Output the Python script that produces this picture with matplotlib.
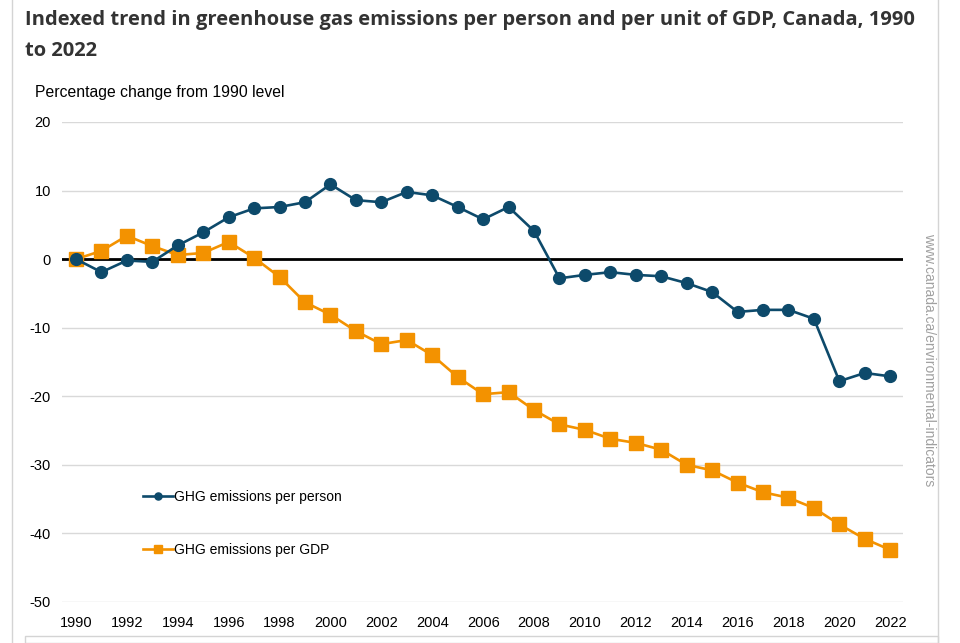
import matplotlib.pyplot as plt
import numpy as np
from matplotlib.patches import Rectangle

years = np.arange(1990, 2023)

# percentage change from 1990
per_person = [0.0, -1.9, -0.2, -0.4, 2.0, 3.9, 6.1, 7.4, 7.6, 8.3,
              10.9, 8.6, 8.3, 9.8, 9.3, 7.6, 5.8, 7.6, 4.1, -2.8,
              -2.3, -1.9, -2.3, -2.5, -3.5, -4.8, -7.7, -7.4, -7.4, -8.7,
              -17.8, -16.6, -17.1]
per_gdp = [0.0, 1.2, 3.4, 1.9, 0.6, 0.9, 2.5, 0.2, -2.6, -6.3,
           -8.1, -10.5, -12.4, -11.8, -14.0, -17.2, -19.7, -19.4, -22.0, -24.1,
           -24.9, -26.2, -26.8, -27.8, -30.0, -30.8, -32.6, -34.0, -34.8, -36.3,
           -38.7, -40.8, -42.4]

y_ticks = [20, 10, 0, -10, -20, -30, -40, -50]
x_ticks = list(range(1990, 2023, 2))

navy = "#0d4a6b"
orange = "#f39200"

plt.rcParams['font.family'] = ['Liberation Sans', 'DejaVu Sans']

fig = plt.figure(figsize=(9.6, 6.43), dpi=100)
ax = fig.add_axes([0.0646, 0.0638, 0.876, 0.7465])

ax.plot(years, per_person, color=navy, lw=1.9, marker="o", markersize=8.5,
        label="GHG emissions per person", zorder=4)
ax.plot(years, per_gdp, color=orange, lw=1.9, marker="s", markersize=9.5,
        label="GHG emissions per GDP", zorder=3)
ax.axhline(0, color="black", lw=2, zorder=2)

ax.set_xlim(1989.45, 2022.5)
ax.set_ylim(-50, 20)
ax.set_yticks(y_ticks)
ax.set_yticklabels([str(v) for v in y_ticks])
ax.set_xticks(x_ticks)
ax.grid(axis="y", color="#d9d9d9", lw=1)
ax.set_axisbelow(True)
for s in ax.spines.values():
    s.set_visible(False)
ax.tick_params(length=0, labelsize=10.5, colors="black")
ax.tick_params(axis="y", pad=8)
ax.tick_params(axis="x", pad=10)

leg = ax.legend(loc="upper left", bbox_to_anchor=(0.081, 0.26), frameon=False,
                fontsize=10, handlelength=2.2, handletextpad=0.05,
                labelspacing=2.85, markerscale=0.6)

title_kw = dict(fontsize=14.5, fontweight="bold", family=["Open Sans", "Lato", "DejaVu Sans"],
                color="#333333", va="center")
fig.text(25 / 960, 1 - 20 / 643,
         "Indexed trend in greenhouse gas emissions per person and per unit of GDP, Canada, 1990", **title_kw)
fig.text(25 / 960, 1 - 51 / 643, "to 2022", **title_kw)
fig.text(35 / 960, 1 - 93 / 643, "Percentage change from 1990 level", fontsize=11.3, va="center")
fig.text(929 / 960, 1 - 360 / 643, "www.canada.ca/environmental-indicators", rotation=-90,
         fontsize=10, color="#a0a0a0", ha="center", va="center")

# page frame
fig.add_artist(Rectangle((12 / 960, -0.01), 926 / 960, 1.02, transform=fig.transFigure,
                         fill=False, edgecolor="#d4d4d4", lw=1))
fig.add_artist(Rectangle((25 / 960, 0), 913 / 960, 7 / 643, transform=fig.transFigure,
                         fill=False, edgecolor="#d4d4d4", lw=1))

fig.savefig("out.png", dpi=100)
